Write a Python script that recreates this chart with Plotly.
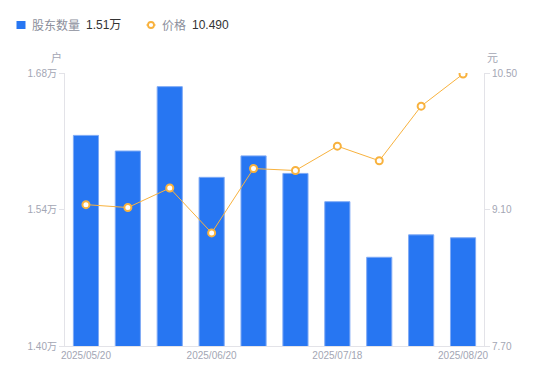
import plotly.graph_objects as go

dates = ["2025/05/20", "2025/05/30", "2025/06/10", "2025/06/20", "2025/06/30",
         "2025/07/10", "2025/07/18", "2025/07/31", "2025/08/10", "2025/08/20"]
holders = [1.616, 1.600, 1.666, 1.573, 1.595, 1.577, 1.548, 1.491, 1.514, 1.511]  # 万户
price = [9.15, 9.12, 9.32, 8.86, 9.52, 9.50, 9.75, 9.60, 10.16, 10.49]
left_ticks = [1.40, 1.54, 1.68]
right_ticks = [7.70, 9.10, 10.50]
shown_dates = ["2025/05/20", "2025/06/20", "2025/07/18", "2025/08/20"]

FONT = "Liberation Sans, Noto Sans CJK SC, sans-serif"
CJK = "Noto Sans CJK SC, sans-serif"
BLUE = "#2776F2"
ORANGE = "#F8B23E"
TICK = "#A3A6B4"
AXIS = "#E3E3E8"
LEG_LABEL = "#8C8F9C"
LEG_VALUE = "#333333"

# page body has an 8px margin; figure is sized so plot area lands where the reference has it
W, H = 542, 373
L, R, T, B = 57, 66, 65, 35
PW, PH = W - L - R, H - T - B

fig = go.Figure()
fig.add_trace(go.Bar(x=dates, y=holders, marker=dict(color=BLUE, line=dict(color="#7FAAF5", width=1)),
                     width=0.6, yaxis="y", name="股东数量"))
fig.add_trace(go.Scatter(x=dates, y=price, yaxis="y2", mode="lines+markers", name="价格",
                         line=dict(color=ORANGE, width=1),
                         marker=dict(symbol="circle", size=7, color="white",
                                     line=dict(color=ORANGE, width=2))))

fig.update_layout(
    width=W, height=H,
    margin=dict(l=L, r=R, t=T, b=B),
    paper_bgcolor="white", plot_bgcolor="white",
    showlegend=False,
    font=dict(family=FONT, size=10, color=TICK),
    xaxis=dict(type="category", range=[-0.5, len(dates) - 0.5],
               tickvals=shown_dates, ticktext=shown_dates,
               showline=True, linecolor=AXIS, linewidth=1, ticks="",
               tickfont=dict(size=10, color=TICK), showgrid=False),
    yaxis=dict(range=[1.40, 1.68], tickvals=left_ticks,
               ticktext=[f"{v:.2f}万" for v in left_ticks],
               showline=True, linecolor=AXIS, ticks="outside", ticklen=5,
               tickcolor=AXIS, showgrid=False, zeroline=False,
               tickfont=dict(size=10, color=TICK)),
    yaxis2=dict(range=[7.70, 10.50], tickvals=right_ticks,
                ticktext=[f"{v:.2f}" for v in right_ticks],
                overlaying="y", side="right",
                showline=True, linecolor=AXIS, ticks="outside", ticklen=5,
                tickcolor=AXIS, showgrid=False, zeroline=False,
                tickfont=dict(size=10, color=TICK)),
)

def px(xp):
    return xp / PW

def py(yp):
    return 1 + yp / PH

# axis unit labels
fig.add_annotation(text="户", xref="paper", yref="paper", x=px(-1), y=py(16),
                   showarrow=False, xanchor="right", yanchor="middle",
                   font=dict(size=11, color=TICK, family=CJK))
fig.add_annotation(text="元", xref="paper", yref="paper", x=px(PW + 1), y=py(16),
                   showarrow=False, xanchor="left", yanchor="middle",
                   font=dict(size=11, color=TICK, family=CJK))

# custom legend (legend row centred 48px above plot top)
LY = py(48)

def legend_text(txt, x_rel, color, family):
    fig.add_annotation(text=txt, xref="paper", yref="paper", x=px(x_rel), y=LY,
                       showarrow=False, xanchor="left", yanchor="middle",
                       font=dict(size=12, family=family, color=color))

fig.add_shape(type="rect", xref="paper", yref="paper",
              x0=px(-48.5), x1=px(-39.5), y0=py(44), y1=py(52),
              fillcolor=BLUE, line=dict(width=0))
legend_text("股东数量", -35, LEG_LABEL, CJK)
legend_text(f"{holders[-1]:.2f}万", 18.5, LEG_VALUE, FONT)

fig.add_shape(type="line", xref="paper", yref="paper",
              x0=px(81.5), x1=px(90.5), y0=LY, y1=LY,
              line=dict(color=ORANGE, width=1.5))
fig.add_shape(type="circle", xref="paper", yref="paper",
              xsizemode="pixel", ysizemode="pixel",
              xanchor=px(86), yanchor=LY, x0=-3, x1=3, y0=-3, y1=3,
              fillcolor="white", line=dict(color=ORANGE, width=1.8))
legend_text("价格", 95, LEG_LABEL, CJK)
legend_text(f"{price[-1]:.3f}", 125, LEG_VALUE, FONT)

fig.write_html("out.html")
